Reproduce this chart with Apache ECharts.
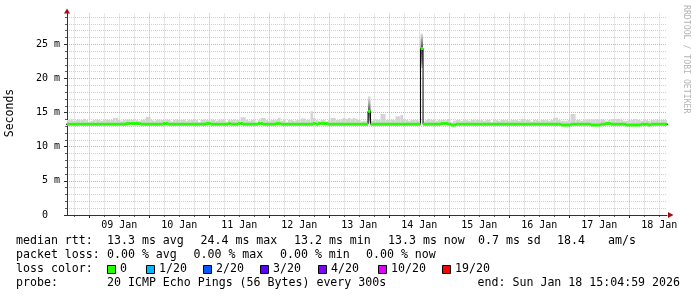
<!DOCTYPE html>
<html><head><meta charset="utf-8">
<script src="https://cdn.jsdelivr.net/npm/echarts@6/dist/echarts.min.js"></script>
<style>html,body{margin:0;padding:0;background:#fff}#c{width:697px;height:297px}</style>
</head><body><div id="c"></div>
<script>
// ---- time frame (hours since 2026-01-08 00:00) ----
const axisStartHour = 15 + 5 / 60;          // Thu Jan 08 15:05
const axisEndHour = axisStartHour + 240;    // Sun Jan 18 15:05
const firstBinHour = 14.5;                  // hourly bins

// ---- x tick labels ----
const dayLabels = ['09 Jan', '10 Jan', '11 Jan', '12 Jan', '13 Jan', '14 Jan', '15 Jan', '16 Jan', '17 Jan', '18 Jan'];
const dayLabelHours = [36, 60, 84, 108, 132, 156, 180, 204, 228, 252];
const midnightHours = [24, 48, 72, 96, 120, 144, 168, 192, 216, 240];

// ---- y ticks (ms) ----
const yMajorTicks = [0, 5, 10, 15, 20, 25];
const yMinorTicks = [1, 2, 3, 4, 6, 7, 8, 9, 11, 12, 13, 14, 16, 17, 18, 19, 21, 22, 23, 24, 26, 27, 28, 29];

// ---- median RTT per hourly bin (ms) ----
const medianRtt = [
  13.3, 13.3, 13.3, 13.3, 13.3, 13.3, 13.3, 13.3, 13.3, 13.3, 13.3, 13.3, 13.3, 13.3, 13.3, 13.3, 13.3, 13.3, 13.3, 13.3,
  13.3, 13.3, 13.3, 13.3, 13.4, 13.4, 13.4, 13.4, 13.4, 13.4, 13.3, 13.3, 13.3, 13.3, 13.3, 13.3, 13.3, 13.3, 13.3, 13.4,
  13.4, 13.3, 13.3, 13.3, 13.3, 13.3, 13.3, 13.3, 13.3, 13.3, 13.3, 13.3, 13.3, 13.3, 13.3, 13.3, 13.4, 13.4, 13.3, 13.3,
  13.3, 13.3, 13.3, 13.3, 13.3, 13.4, 13.3, 13.3, 13.3, 13.4, 13.4, 13.3, 13.3, 13.3, 13.3, 13.3, 13.3, 13.4, 13.4, 13.3,
  13.3, 13.3, 13.3, 13.3, 13.4, 13.4, 13.3, 13.3, 13.3, 13.3, 13.3, 13.3, 13.3, 13.3, 13.3, 13.3, 13.3, 13.3, 13.3, 13.4,
  13.3, 13.4, 13.4, 13.4, 13.4, 13.3, 13.3, 13.3, 13.3, 13.3, 13.3, 13.3, 13.3, 13.3, 13.3, 13.3, 13.3, 13.3, 13.3, 13.3,
  13.3, 15.2, 13.3, 13.3, 13.3, 13.3, 13.3, 13.3, 13.3, 13.3, 13.3, 13.3, 13.3, 13.3, 13.3, 13.3, 13.3, 13.3, 13.3, 13.3,
  13.3, 13.3, 24.4, 13.3, 13.3, 13.3, 13.3, 13.3, 13.3, 13.3, 13.4, 13.4, 13.4, 13.3, 13.2, 13.2, 13.3, 13.3, 13.3, 13.3,
  13.3, 13.3, 13.3, 13.3, 13.3, 13.3, 13.3, 13.3, 13.3, 13.3, 13.3, 13.3, 13.3, 13.3, 13.3, 13.3, 13.3, 13.3, 13.3, 13.3,
  13.3, 13.3, 13.3, 13.3, 13.3, 13.3, 13.3, 13.3, 13.3, 13.3, 13.3, 13.3, 13.3, 13.3, 13.3, 13.3, 13.3, 13.3, 13.2, 13.2,
  13.2, 13.2, 13.3, 13.3, 13.3, 13.3, 13.3, 13.3, 13.3, 13.3, 13.2, 13.2, 13.2, 13.2, 13.3, 13.3, 13.4, 13.4, 13.3, 13.3,
  13.3, 13.3, 13.3, 13.3, 13.2, 13.2, 13.2, 13.2, 13.2, 13.2, 13.3, 13.3, 13.3, 13.2, 13.3, 13.3, 13.3, 13.3, 13.3, 13.3,
  13.3
];

// ---- highest ping per hourly bin (ms), top of the smoke ----
const smokeTop = [
  13.9, 13.9, 14.0, 13.8, 13.9, 14.0, 13.9, 14.1, 13.9, 13.6, 13.8, 13.9, 14.0, 13.9, 13.8, 13.9, 14.0, 13.9, 13.9, 14.2,
  14.2, 13.9, 13.8, 13.9, 14.0, 14.0, 13.9, 14.0, 13.9, 13.8, 13.9, 14.0, 14.35, 14.35, 13.9, 13.8, 13.9, 14.0, 13.9, 13.9,
  14.0, 13.9, 13.7, 13.9, 14.0, 13.9, 13.9, 14.0, 13.8, 13.9, 13.9, 14.0, 13.9, 13.6, 13.9, 14.0, 13.9, 13.9, 14.0, 13.9,
  13.8, 13.9, 14.0, 13.9, 13.6, 13.9, 13.9, 14.0, 13.9, 13.9, 14.3, 14.3, 13.9, 13.8, 13.9, 13.9, 13.6, 13.9, 14.2, 14.2,
  13.9, 13.8, 13.9, 13.9, 13.9, 14.2, 13.8, 13.9, 13.6, 13.9, 13.9, 13.8, 13.9, 13.9, 14.15, 14.15, 13.9, 13.9, 15.2, 14.2,
  13.9, 13.8, 13.9, 13.9, 13.7, 13.9, 14.2, 14.2, 13.9, 13.9, 14.05, 14.2, 14.05, 14.2, 14.05, 14.2, 14.05, 13.9, 13.7, 13.8,
  13.8, 17.4, 13.8, 13.9, 14.0, 13.9, 14.8, 14.8, 13.9, 13.9, 14.0, 13.9, 14.45, 14.45, 14.65, 14.0, 13.9, 13.8, 13.9, 13.9,
  13.9, 13.8, 26.6, 13.7, 13.9, 14.05, 13.9, 13.9, 13.8, 13.9, 13.9, 13.9, 13.9, 14.05, 13.6, 13.8, 13.9, 13.9, 13.8, 13.9,
  13.9, 13.8, 13.9, 13.95, 13.95, 13.95, 13.9, 13.8, 13.9, 13.9, 13.6, 13.9, 13.9, 13.8, 13.9, 13.9, 13.9, 13.8, 13.9, 13.9,
  13.9, 13.8, 14.05, 14.05, 13.9, 13.9, 13.7, 13.9, 13.9, 13.8, 13.9, 13.9, 13.9, 13.8, 13.9, 14.25, 14.25, 13.9, 13.8, 13.8,
  13.8, 13.9, 14.8, 14.8, 13.9, 13.9, 13.8, 13.9, 14.0, 14.0, 14.0, 14.0, 14.0, 14.0, 14.0, 13.9, 13.8, 13.9, 14.05, 14.05,
  14.05, 14.05, 13.9, 13.8, 13.8, 13.9, 13.9, 14.05, 14.05, 13.9, 13.8, 13.9, 13.9, 13.8, 13.9, 13.9, 14.0, 13.9, 13.9, 13.9,
  13.9
];

// ---- spread of the two latency spikes (ms) ----
const spikeBins = [121, 142];
const spikeLow = [13.4, 21.5];
const spikeInnerTop = [16.3, 25.7];
const spikeInnerLow = [14.0, 22.6];

// ---- legend / statistics text ----
const rttStats = [['median rtt:', 16], ['13.3 ms avg', 107], ['24.4 ms max', 200.5], ['13.2 ms min', 294], ['13.3 ms now', 388], ['0.7 ms sd', 478], ['18.4', 557], ['am/s', 608]];
const lossStats = [['packet loss:', 16], ['0.00 % avg', 107], ['0.00 % max', 193.5], ['0.00 % min', 280], ['0.00 % now', 366]];
const lossColorLabels = ['0', '1/20', '2/20', '3/20', '4/20', '10/20', '19/20'];
const lossColors = ['#26ff00', '#00b8ff', '#0059ff', '#5e00ff', '#7e00ff', '#dd00ff', '#ff0000'];
const lossBoxX = [107, 146, 203, 260, 318, 378, 442];
const probeText = '20 ICMP Echo Pings (56 Bytes) every 300s';
const endText = 'end: Sun Jan 18 15:04:59 2026';

// ---- build series data ----
const bins = medianRtt.map((m, i) => {
  const s = spikeBins.indexOf(i);
  return [firstBinHour + i, firstBinHour + i + 1, m, smokeTop[i],
    s >= 0 ? spikeLow[s] : m, s >= 0 ? spikeInnerTop[s] : m, s >= 0 ? spikeInnerLow[s] : m, s >= 0 ? 1 : 0];
});
const stepLine = medianRtt.map((m, i) => [firstBinHour + i, m]);
stepLine.push([firstBinHour + medianRtt.length, medianRtt[medianRtt.length - 1]]);

const minorHours = [];
for (let h = 18; h < axisEndHour; h += 6) if (h % 24 !== 0) minorHours.push(h);

const MONO = '"DejaVu Sans Mono", monospace';
const majorGrid = { show: true, lineStyle: { color: '#f2a0a0', width: 1, type: [1, 1] } };
const minorGrid = { show: true, lineStyle: { color: '#d0d0d0', width: 1, type: [1, 1] } };

const chart = echarts.init(document.getElementById('c'), null, { renderer: 'canvas' });

function smokeItem(params, api) {
  const x0 = api.value(0), x1 = api.value(1), med = api.value(2), top = api.value(3);
  const lo = api.value(4), spike = api.value(7);
  const pa = api.coord([x0, top]);
  const pb = api.coord([x1, spike ? lo : med]);
  const pm = api.coord([x0, med]);
  const h = pb[1] - pa[1];
  if (h <= 0) return null;
  let fill = '#d4d4d4';
  if (spike) {
    const inTop = api.coord([x0, api.value(5)])[1];
    const inLow = api.coord([x0, api.value(6)])[1];
    const f = v => Math.max(0, Math.min(1, (v - pa[1]) / h));
    fill = new echarts.graphic.LinearGradient(0, 0, 0, 1, [
      { offset: 0, color: '#e4e4e4' },
      { offset: f(inTop), color: '#a8a8a8' },
      { offset: f(pm[1]), color: '#4a4a4a' },
      { offset: f(inLow), color: '#8a8a8a' },
      { offset: 1, color: '#dcdcdc' }
    ]);
  }
  return { type: 'rect', shape: { x: pa[0], y: pa[1], width: pb[0] - pa[0], height: h }, style: { fill: fill } };
}

function bandItem(params, api) {
  const p0 = api.coord([api.value(0), api.value(2)]);
  const p1 = api.coord([api.value(1), api.value(2)]);
  return { type: 'rect', shape: { x: p0[0], y: p0[1] - 1.5, width: p1[0] - p0[0], height: 3 }, style: { fill: lossColors[0] } };
}

const txt = (text, x, y, extra) => Object.assign({
  type: 'text', x: x, y: y, silent: true,
  style: Object.assign({ text: text, font: '11.6px ' + MONO, fill: '#000', align: 'left', verticalAlign: 'middle', textAlign: 'left', textVerticalAlign: 'middle' }, extra || {})
});

const graphics = [];
// axis title and watermark
graphics.push({ type: 'text', x: 10, y: 113, rotation: Math.PI / 2, silent: true,
  style: { text: 'Seconds', font: '11.5px ' + MONO, fill: '#000', align: 'center', verticalAlign: 'middle', textAlign: 'center', textVerticalAlign: 'middle' } });
graphics.push({ type: 'text', x: 686, y: 5, rotation: -Math.PI / 2, silent: true,
  style: { text: 'RRDTOOL / TOBI OETIKER', font: '8.2px ' + MONO, fill: '#b4b4b4', align: 'left', verticalAlign: 'middle', textAlign: 'left', textVerticalAlign: 'middle' } });
// axis arrows
graphics.push({ type: 'polygon', silent: true, shape: { points: [[67, 8.5], [64, 13.5], [70, 13.5]] }, style: { fill: '#a01010' } });
graphics.push({ type: 'polygon', silent: true, shape: { points: [[673.5, 215], [668, 212], [668, 218]] }, style: { fill: '#a01010' } });
// legend lines
rttStats.forEach(s => graphics.push(txt(s[0], s[1], 241)));
lossStats.forEach(s => graphics.push(txt(s[0], s[1], 255)));
graphics.push(txt('loss color:', 16, 269));
lossColorLabels.forEach((l, i) => {
  graphics.push({ type: 'rect', silent: true, shape: { x: lossBoxX[i] + 0.5, y: 265.5, width: 8, height: 8 }, style: { fill: lossColors[i], stroke: '#000', lineWidth: 1 } });
  graphics.push(txt(l, lossBoxX[i] + 13, 269));
});
graphics.push(txt('probe:', 16, 283));
graphics.push(txt(probeText, 107, 283));
graphics.push(txt(endText, 680, 283, { align: 'right', textAlign: 'right' }));

chart.setOption({
  animation: false,
  backgroundColor: '#ffffff',
  grid: { left: 67, right: 30, top: 13.6, bottom: 82, containLabel: false },
  xAxis: [
    { type: 'value', min: axisStartHour, max: axisEndHour, position: 'bottom',
      axisLine: { show: true, onZero: false, lineStyle: { color: '#303030', width: 1 } },
      axisTick: { show: true, length: 3, lineStyle: { color: '#303030' }, customValues: midnightHours },
      axisLabel: { show: true, customValues: dayLabelHours, margin: 5, color: '#000', fontFamily: MONO, fontSize: 10,
        formatter: v => dayLabels[dayLabelHours.indexOf(Math.round(v))] || '' },
      splitLine: majorGrid, z: 1 },
    { type: 'value', min: axisStartHour, max: axisEndHour, position: 'bottom',
      axisLine: { show: false },
      axisTick: { show: true, length: 2, lineStyle: { color: '#606060' }, customValues: minorHours },
      axisLabel: { show: false },
      splitLine: minorGrid, z: 0 }
  ],
  yAxis: [
    { type: 'value', min: 0, max: 29.5, position: 'left',
      axisLine: { show: true, onZero: false, lineStyle: { color: '#303030', width: 1 } },
      axisTick: { show: true, length: 3, lineStyle: { color: '#303030' }, customValues: yMajorTicks },
      axisLabel: { show: true, customValues: yMajorTicks, margin: 7, color: '#000', fontFamily: MONO, fontSize: 10,
        formatter: v => (v === 0 ? '0  ' : v + ' m') },
      splitLine: majorGrid, z: 1 },
    { type: 'value', min: 0, max: 29.5, position: 'left',
      axisLine: { show: false },
      axisTick: { show: true, length: 2, lineStyle: { color: '#606060' }, customValues: yMinorTicks },
      axisLabel: { show: false },
      splitLine: minorGrid, z: 0 }
  ],
  series: [
    { type: 'custom', name: 'smoke', xAxisIndex: 0, yAxisIndex: 0, clip: true, z: 2, silent: true,
      renderItem: smokeItem, data: bins },
    { type: 'line', name: 'median', xAxisIndex: 0, yAxisIndex: 0, step: 'end', showSymbol: false, symbol: 'none',
      z: 3, silent: true, clip: true, lineStyle: { color: '#000', width: 1 }, data: stepLine },
    { type: 'custom', name: 'loss', xAxisIndex: 0, yAxisIndex: 0, clip: true, z: 4, silent: true,
      renderItem: bandItem, data: bins }
  ],
  graphic: graphics
});
</script></body></html>
